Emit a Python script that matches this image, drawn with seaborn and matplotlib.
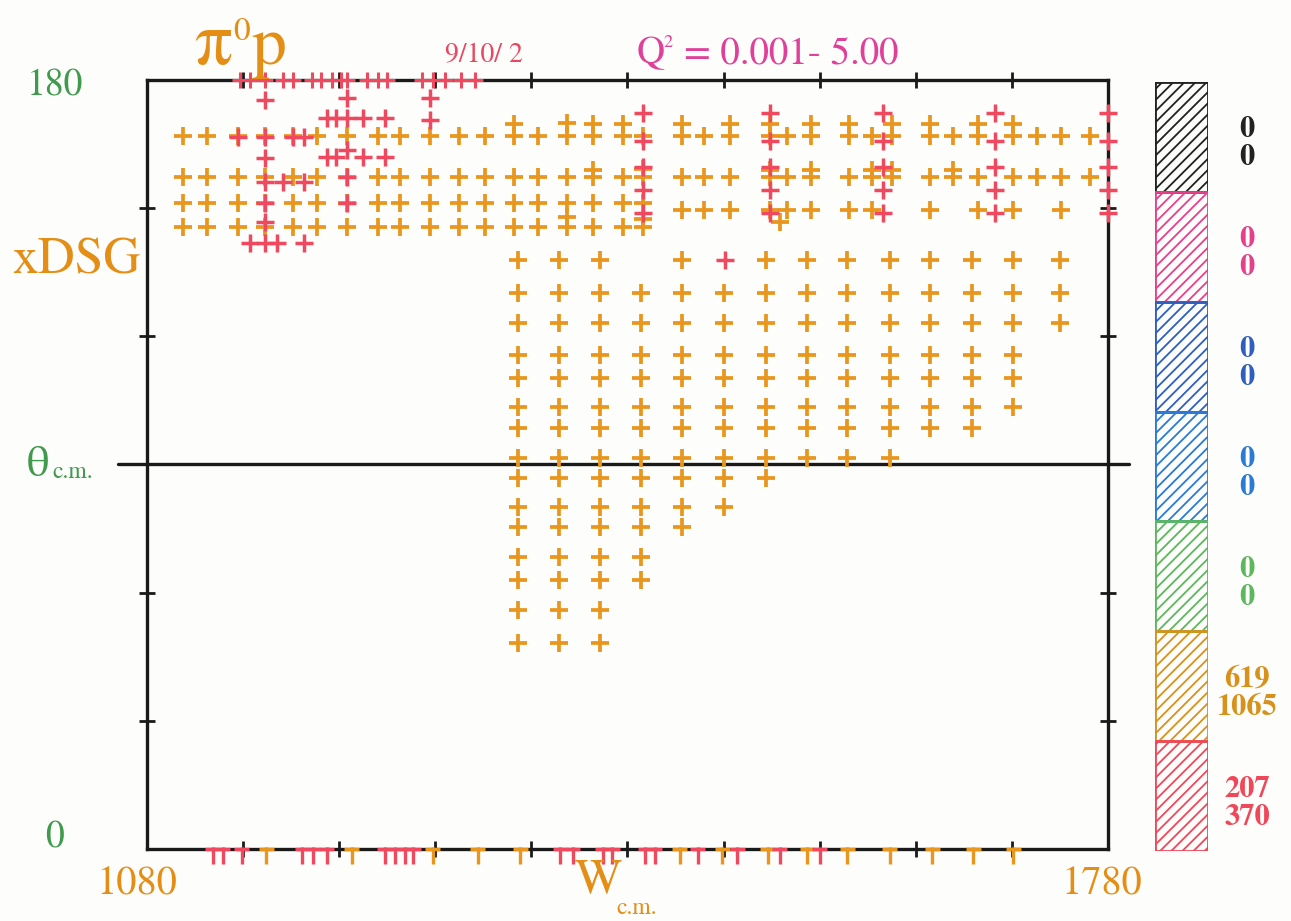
import numpy as np
import pandas as pd
import matplotlib
matplotlib.use("Agg")
import matplotlib.pyplot as plt
from matplotlib.path import Path
from matplotlib.patches import Rectangle
import seaborn as sns

sns.set_theme(style="white")
plt.rcParams['font.family'] = ['STIXGeneral', 'DejaVu Serif']
plt.rcParams['mathtext.fontset'] = 'stix'
plt.rcParams['hatch.linewidth'] = 1.3

# ---------------- data ----------------
# lower orange grid
low_W = [1350, 1380, 1410, 1440, 1470, 1500, 1531, 1561, 1590, 1621, 1650, 1681, 1711, 1745]
low_theta = [137.9, 130.1, 123.1, 115.6, 110.3, 103.5, 98.6, 91.6, 86.9, 80.1, 75.4, 68.4, 63.0, 56.0, 48.2]
low_row_ncols = [14, 14, 14, 13, 13, 13, 12, 10, 7, 6, 5, 4, 4, 3, 3]
low_row0_missing = [1440, 1500]

# upper orange band
up_W = [1106, 1124, 1146, 1166, 1186, 1204, 1226, 1248, 1264, 1286, 1307, 1326, 1347, 1365,
        1386, 1405, 1427, 1441, 1470, 1486, 1505, 1534, 1546, 1564, 1591, 1608, 1623, 1650,
        1667, 1685, 1711, 1728, 1746, 1767]
up_theta_full = [167.0, 157.3]
up_theta_left = [151.2, 145.6]
up_left_limit = 1441
up_rowc_W = [1470, 1486, 1505, 1534, 1546, 1564, 1591, 1608, 1650, 1685, 1711, 1746]
up_rowc_theta = 149.5
up_extra_W = [1347, 1386, 1405, 1427, 1470, 1505, 1534, 1564, 1591, 1623, 1650, 1685, 1711,
              1405, 1441, 1534, 1564, 1608, 1623, 1667, 1386, 1441, 1541]
up_extra_theta = [169.8, 170.0, 169.8, 169.6, 169.7, 169.7, 169.7, 169.7, 169.7, 169.7, 169.7, 169.7, 169.7,
                  159.0, 159.2, 159.0, 159.0, 159.0, 159.0, 159.0, 148.0, 147.5, 146.8]

# orange at theta = 0
orange_bot_W = [1167, 1229, 1288, 1321, 1352, 1468, 1499, 1532, 1561, 1590, 1621, 1652, 1682, 1711]

# red data
red_top_W = [1148, 1155, 1166, 1179, 1186, 1200, 1207, 1215, 1221, 1226, 1240, 1248, 1255,
             1280, 1288, 1297, 1309, 1319]
red_col_W = [1441, 1534, 1616, 1698, 1780]
red_col_theta = [172.3, 165.7, 159.6, 154.3, 148.9]
redA_W, redA_theta = 1166, [175.3, 166.7, 161.7, 156.1, 151.2, 146.8, 141.9]
redB_W, redB_theta = 1226, [175.8, 171.1, 163.6, 157.3, 151.2]
redC_W, redC_theta = 1286, [175.8, 170.6]
red_extra_W = [1155, 1175, 1194, 1146, 1186, 1194, 1179, 1194, 1211, 1218, 1237, 1253,
               1211, 1218, 1237, 1253, 1501]
red_extra_theta = [141.9, 141.9, 141.9, 166.7, 166.7, 166.7, 156.1, 156.1, 171.1, 171.1, 171.1, 171.1,
                   162.0, 162.0, 162.0, 162.0, 137.9]
red_bot_W = [1128, 1135, 1149, 1193, 1201, 1211, 1253, 1261, 1268, 1274, 1381, 1390, 1412,
             1419, 1443, 1450, 1481, 1510, 1541, 1570]

# legend
legend_colors = ['#222222', '#e6408a', '#2e5fc0', '#2a7ad6', '#5cb85c', '#d8921c', '#f0485a']
legend_top = [0, 0, 0, 0, 0, 619, 207]
legend_bot = [0, 0, 0, 0, 0, 1065, 370]

ORANGE = '#e8961e'
RED = '#f0485e'
GREEN = '#3f9a4c'
TXT_OR = '#e48e16'

# ---------------- build frames ----------------
ow, ot = [], []
for th, n in zip(low_theta, low_row_ncols):
    for w in low_W[:n]:
        if th == low_theta[0] and w in low_row0_missing:
            continue
        ow.append(w); ot.append(th)
for w in up_W:
    for th in up_theta_full:
        ow.append(w); ot.append(th)
    if w <= up_left_limit:
        for th in up_theta_left:
            ow.append(w); ot.append(th)
for w in up_rowc_W:
    ow.append(w); ot.append(up_rowc_theta)
ow += up_extra_W; ot += up_extra_theta
df_or = pd.DataFrame({'W': ow, 'theta': ot})

rw, rt = [], []
for w in red_col_W:
    for th in red_col_theta:
        rw.append(w); rt.append(th)
for W0, ths in [(redA_W, redA_theta), (redB_W, redB_theta), (redC_W, redC_theta)]:
    for th in ths:
        rw.append(W0); rt.append(th)
rw += red_extra_W; rt += red_extra_theta
df_red = pd.DataFrame({'W': rw, 'theta': rt})
df_top = pd.DataFrame({'W': red_top_W, 'theta': [180.0] * len(red_top_W)})
df_bot_r = pd.DataFrame({'W': red_bot_W, 'theta': [0.0] * len(red_bot_W)})
df_bot_o = pd.DataFrame({'W': orange_bot_W, 'theta': [0.0] * len(orange_bot_W)})

# ---------------- figure ----------------
W_PX, H_PX = 1291, 921
fig = plt.figure(figsize=(W_PX / 100, H_PX / 100), dpi=100, facecolor='#fdfdfb')
def fx(x): return x / W_PX
def fy(y): return 1 - y / H_PX

ax = fig.add_axes([fx(147), fy(849), fx(1108) - fx(147), fy(80) - fy(849)])
ax.set_facecolor('#fdfdfb')
ax.set_xlim(1080, 1780)
ax.set_ylim(0, 180)
ax.set_xticks(np.arange(1150, 1780, 70))
ax.set_yticks([30, 60, 90, 120, 150])
ax.tick_params(direction='inout', length=12, width=2, color='#1a1a1a',
               labelbottom=False, labelleft=False, top=True, right=True,
               bottom=True, left=True)
for sp in ax.spines.values():
    sp.set_linewidth(2.4)
    sp.set_color('#1a1a1a')
    sp.set_visible(True)

# 90 degree line
ax.plot([1059, 1795], [90, 90], color='#1a1a1a', lw=2.4, clip_on=False, zorder=2)

sns.scatterplot(data=df_or, x='W', y='theta', marker='+', s=180, color=ORANGE,
                linewidth=2.7, ax=ax, legend=False, zorder=3, clip_on=False)
sns.scatterplot(data=df_red, x='W', y='theta', marker='+', s=180, color=RED,
                linewidth=2.5, ax=ax, legend=False, zorder=4, clip_on=False)
sns.scatterplot(data=df_top, x='W', y='theta', marker='+', s=120, color=RED,
                linewidth=2.2, ax=ax, legend=False, zorder=5, clip_on=False)

bot_marker = Path([(-0.5, 0), (0.5, 0), (0, 0.1), (0, -1)],
                  [Path.MOVETO, Path.LINETO, Path.MOVETO, Path.LINETO])
sns.scatterplot(data=df_bot_o, x='W', y='theta', marker=bot_marker, s=470,
                facecolor='none', edgecolor=ORANGE, linewidth=2.4, ax=ax,
                legend=False, zorder=5, clip_on=False)
sns.scatterplot(data=df_bot_r, x='W', y='theta', marker=bot_marker, s=470,
                facecolor='none', edgecolor=RED, linewidth=2.4, ax=ax,
                legend=False, zorder=5, clip_on=False)
ax.set_xlabel(''); ax.set_ylabel('')

# ---------------- legend column ----------------
lax = fig.add_axes([fx(1155), fy(851), fx(1208) - fx(1155), fy(82) - fy(851)])
lax.set_xlim(0, 1); lax.set_ylim(0, len(legend_colors))
lax.axis('off')
n = len(legend_colors)
for i, c in enumerate(legend_colors):
    y0 = n - 1 - i
    lax.add_patch(Rectangle((0, y0), 1, 1, facecolor='none', edgecolor=c,
                            hatch='///', lw=2.0))
    ybox_top = 82 + i * (851 - 82) / n
    cy = ybox_top + (851 - 82) / n / 2 + 7
    fig.text(fx(1247), fy(cy - 14), str(legend_top[i]), ha='center', va='center',
             fontsize=22, fontweight='bold', color=c)
    fig.text(fx(1247), fy(cy + 14), str(legend_bot[i]), ha='center', va='center',
             fontsize=22, fontweight='bold', color=c)

# ---------------- texts ----------------
fig.text(fx(194), fy(64), 'π', fontsize=54, color=TXT_OR, ha='left', va='baseline')
fig.text(fx(233), fy(40), '0', fontsize=24, color=TXT_OR, ha='left', va='baseline')
fig.text(fx(252), fy(64), 'p', fontsize=50, color=TXT_OR, ha='left', va='baseline')
fig.text(fx(445), fy(62), '9/10/ 2', fontsize=20, color='#e84860', ha='left', va='baseline')
fig.text(fx(637), fy(63), 'Q', fontsize=28, color='#e0409a', ha='left', va='baseline')
fig.text(fx(663), fy(47), '2', fontsize=13, color='#e0409a', ha='left', va='baseline')
fig.text(fx(684), fy(63), '= 0.001- 5.00', fontsize=28, color='#e0409a',
         ha='left', va='baseline')
fig.text(fx(55), fy(86), '180', fontsize=27, color=GREEN, ha='center', va='center')
fig.text(fx(55), fy(838), '0', fontsize=27, color=GREEN, ha='center', va='center')
fig.text(fx(12), fy(273), 'xDSG', fontsize=37, color=TXT_OR, ha='left', va='baseline')
fig.text(fx(38), fy(466), 'θ', fontsize=32, color=GREEN, ha='center', va='center')
fig.text(fx(52), fy(478), 'c.m.', fontsize=17, color=GREEN, ha='left', va='baseline')
fig.text(fx(137), fy(885), '1080', fontsize=29, color=TXT_OR, ha='center', va='center')
fig.text(fx(1102), fy(885), '1780', fontsize=29, color=TXT_OR, ha='center', va='center')
fig.text(fx(598), fy(880), 'W', fontsize=36, color=TXT_OR, ha='center', va='center')
fig.text(fx(616), fy(914), 'c.m.', fontsize=17, color=TXT_OR, ha='left', va='baseline')

fig.savefig('out.png', dpi=100, facecolor=fig.get_facecolor())
